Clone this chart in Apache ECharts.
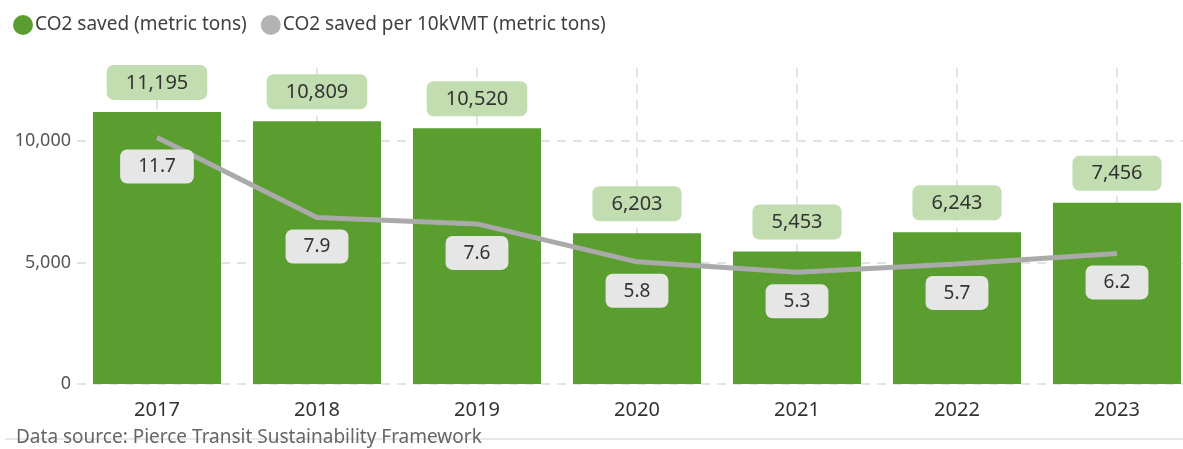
<!DOCTYPE html>
<html>
<head>
<meta charset="utf-8">
<script src="https://cdn.jsdelivr.net/npm/echarts@6/dist/echarts.min.js"></script>
<style>
  html, body { margin: 0; padding: 0; background: #fff; }
  #chart { width: 1183px; height: 449px; }
</style>
</head>
<body>
<div id="chart"></div>
<script>
// years on the x axis
var years = ['2017', '2018', '2019', '2020', '2021', '2022', '2023'];
// CO2 saved (metric tons), bars
var co2Saved = [11195, 10809, 10520, 6203, 5453, 6243, 7456];
// CO2 saved per 10kVMT (metric tons), line
var co2Per10k = [11.7, 7.9, 7.6, 5.8, 5.3, 5.7, 6.2];
var yTicks = [0, 5000, 10000];

var FONT = '"Noto Sans", "Open Sans", sans-serif';

function fmt(v) {
    return Number(v).toLocaleString('en-US');
}

var myChart = echarts.init(document.getElementById('chart'));
myChart.setOption({
    animation: false,
    textStyle: { fontFamily: FONT },
    legend: {
        left: 8,
        top: 10,
        itemGap: 14,
        itemWidth: 20,
        itemHeight: 20,
        icon: 'circle',
        textStyle: { fontSize: 19, color: '#404040', padding: [0, 0, 0, -3] },
        data: ['CO2 saved (metric tons)', 'CO2 saved per 10kVMT (metric tons)']
    },
    // plot runs a little past the right edge of the picture (last bar is cut)
    grid: {
        left: 77,
        right: -14,
        top: 68,
        bottom: 65,
        outerBoundsMode: 'none'
    },
    xAxis: {
        type: 'category',
        data: years,
        axisLine: { show: false },
        axisTick: { show: false },
        axisLabel: { fontSize: 20, color: '#333', margin: 16 },
        splitLine: {
            show: true,
            alignWithLabel: true,
            lineStyle: { color: '#e3e3e3', width: 2, type: [9, 7] }
        }
    },
    yAxis: [{
        type: 'value',
        min: 0,
        max: 13000,
        interval: 5000,
        axisLine: { show: false },
        axisTick: { show: false },
        axisLabel: {
            fontSize: 18,
            color: '#555',
            margin: 6,
            showMaxLabel: false,
            formatter: function (v) {
                return yTicks.indexOf(v) >= 0 ? fmt(v) : '';
            }
        },
        splitLine: {
            show: true,
            showMaxLine: false,
            lineStyle: { color: '#e3e3e3', width: 2, type: [9, 7] }
        }
    }, {
        type: 'value',
        min: 0,
        max: 15,
        show: false,
        splitLine: { show: false }
    }],
    series: [{
        name: 'CO2 saved (metric tons)',
        type: 'bar',
        data: co2Saved,
        barWidth: '80%',
        itemStyle: { color: '#5a9e2f' },
        label: {
            show: true,
            position: 'top',
            distance: 12,
            fontSize: 20,
            color: '#333',
            backgroundColor: '#c2ddb0',
            borderRadius: 7,
            padding: [8, 19, 7, 19],
            formatter: function (p) { return fmt(p.value); }
        }
    }, {
        name: 'CO2 saved per 10kVMT (metric tons)',
        type: 'line',
        yAxisIndex: 1,
        data: co2Per10k,
        showSymbol: true,
        symbol: 'circle',
        symbolSize: 0,
        z: 5,
        itemStyle: { color: '#b3b3b3' },
        lineStyle: { color: '#aaaaaa', width: 5 },
        label: {
            show: true,
            position: 'bottom',
            distance: 12,
            fontSize: 19,
            color: '#333',
            backgroundColor: '#e6e6e6',
            borderRadius: 7,
            padding: [8, 18, 7, 18],
            formatter: function (p) { return p.value.toFixed(1); }
        },
        labelLayout: { hideOverlap: false }
    }],
    graphic: [{
        type: 'line',
        shape: { x1: 5, y1: 439, x2: 1183, y2: 439 },
        style: { stroke: '#e0e0e0', lineWidth: 1.5 },
        z: 1
    }, {
        type: 'text',
        left: 16,
        top: 428,
        z: 2,
        style: {
            text: 'Data source: Pierce Transit Sustainability Framework',
            fontSize: 19,
            fontFamily: FONT,
            fill: '#666'
        }
    }]
});
</script>
</body>
</html>
